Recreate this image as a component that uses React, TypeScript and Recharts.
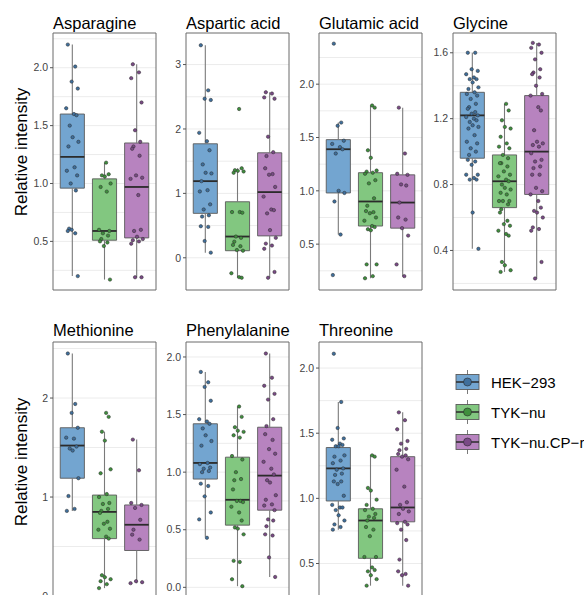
import React from 'react'
import {
  ScatterChart,
  Scatter,
  XAxis,
  YAxis,
  CartesianGrid,
  ReferenceArea,
  ReferenceLine,
} from 'recharts'

const GROUPS = ['HEK−293', 'TYK−nu', 'TYK−nu.CP−r']
const BOX_FILL = ['#73a5d0', '#82c780', '#b783bf']
const POINT_FILL = ['#3f6f9c', '#3f8f3d', '#7a4a86']

// relative intensity of each sample
const ASN_HEK = [2.2, 2.01, 1.88, 1.82, 1.65, 1.6, 1.59, 1.5, 1.4, 1.36, 1.32, 1.14, 1.11, 1.07, 1.0, 0.94, 0.61, 0.59, 0.57, 0.6, 0.2]
const ASN_TYK = [1.18, 1.08, 1.07, 1.06, 1.0, 0.97, 0.93, 0.6, 0.59, 0.57, 0.55, 0.52, 0.5, 0.49, 0.46, 0.17]
const ASN_CPR = [2.03, 1.96, 1.91, 1.7, 1.46, 1.36, 1.32, 1.3, 1.24, 1.07, 1.05, 1.04, 0.9, 0.6, 0.59, 0.54, 0.52, 0.51, 0.5, 0.48, 0.19, 0.19]

const ASP_HEK = [3.3, 2.6, 2.47, 2.45, 1.94, 1.81, 1.67, 1.45, 1.32, 1.31, 1.19, 1.05, 1.03, 0.83, 0.75, 0.66, 0.64, 0.49, 0.48, 0.26, 0.08]
const ASP_TYK = [2.31, 1.39, 1.36, 1.35, 1.34, 1.32, 0.71, 0.71, 0.7, 0.33, 0.31, 0.25, 0.2, 0.18, 0.12, 0.11, -0.24, -0.3, -0.31]
const ASP_CPR = [2.57, 2.55, 2.49, 2.47, 1.88, 1.64, 1.58, 1.39, 1.3, 1.29, 1.1, 0.95, 0.75, 0.74, 0.69, 0.43, 0.31, 0.22, 0.19, 0.14, -0.22, -0.31]

const GLU_HEK = [2.38, 1.64, 1.61, 1.47, 1.44, 1.41, 1.39, 1.35, 1.0, 0.98, 0.9, 0.59, 0.21]
const GLU_TYK = [1.8, 1.78, 1.38, 1.31, 1.19, 1.18, 1.17, 1.16, 1.1, 1.07, 0.93, 0.86, 0.81, 0.8, 0.79, 0.75, 0.72, 0.67, 0.66, 0.64, 0.63, 0.31, 0.31, 0.2, 0.18]
const GLU_CPR = [1.78, 1.35, 1.16, 1.15, 1.06, 1.05, 0.89, 0.75, 0.73, 0.65, 0.58, 0.31, 0.2]

const GLY_HEK = [1.6, 1.6, 1.5, 1.49, 1.47, 1.45, 1.44, 1.44, 1.42, 1.39, 1.38, 1.36, 1.35, 1.34, 1.32, 1.29, 1.27, 1.26, 1.24, 1.23, 1.22, 1.21, 1.2, 1.19, 1.18, 1.16, 1.15, 1.14, 1.1, 1.06, 1.05, 1.02, 1.0, 0.98, 0.95, 0.94, 0.92, 0.86, 0.86, 0.84, 0.83, 0.83, 0.63, 0.41]
const GLY_TYK = [1.29, 1.25, 1.19, 1.15, 1.14, 1.09, 1.05, 1.03, 1.02, 0.98, 0.96, 0.93, 0.93, 0.91, 0.88, 0.86, 0.85, 0.83, 0.82, 0.8, 0.78, 0.77, 0.75, 0.74, 0.7, 0.7, 0.7, 0.68, 0.65, 0.63, 0.58, 0.56, 0.55, 0.52, 0.5, 0.49, 0.33, 0.31, 0.28, 0.27]
const GLY_CPR = [1.66, 1.65, 1.63, 1.6, 1.56, 1.5, 1.48, 1.47, 1.45, 1.4, 1.35, 1.34, 1.27, 1.25, 1.13, 1.06, 1.05, 1.04, 1.03, 0.99, 0.95, 0.94, 0.91, 0.9, 0.86, 0.86, 0.78, 0.76, 0.74, 0.7, 0.66, 0.64, 0.63, 0.6, 0.54, 0.53, 0.52, 0.33, 0.23]

const MET_HEK = [2.45, 1.94, 1.85, 1.7, 1.6, 1.59, 1.51, 1.49, 1.47, 1.19, 1.01, 0.88, 0.86]
const MET_TYK = [1.85, 1.81, 1.66, 1.57, 1.28, 1.24, 1.03, 1.0, 0.94, 0.93, 0.88, 0.86, 0.84, 0.75, 0.73, 0.68, 0.67, 0.6, 0.58, 0.21, 0.19, 0.17, 0.15, 0.12, 0.08]
const MET_CPR = [1.58, 1.27, 0.94, 0.92, 0.89, 0.77, 0.67, 0.62, 0.57, 0.15, 0.14, 0.13]

const PHE_HEK = [1.87, 1.78, 1.74, 1.62, 1.46, 1.44, 1.42, 1.38, 1.32, 1.27, 1.23, 1.08, 1.07, 1.04, 1.03, 1.01, 1.0, 0.9, 0.88, 0.79, 0.65, 0.59, 0.43]
const PHE_TYK = [1.57, 1.48, 1.39, 1.36, 1.35, 1.32, 1.3, 1.14, 1.11, 1.0, 0.94, 0.93, 0.85, 0.75, 0.75, 0.74, 0.7, 0.65, 0.58, 0.52, 0.51, 0.46, 0.23, 0.22, 0.07, 0.01]
const PHE_CPR = [2.03, 1.82, 1.75, 1.68, 1.63, 1.46, 1.4, 1.33, 1.28, 1.2, 1.16, 1.09, 1.03, 0.98, 0.93, 0.91, 0.8, 0.76, 0.72, 0.71, 0.67, 0.59, 0.58, 0.53, 0.46, 0.45, 0.26, 0.09]

const THR_HEK = [2.11, 1.74, 1.54, 1.46, 1.45, 1.42, 1.41, 1.4, 1.4, 1.33, 1.32, 1.29, 1.27, 1.23, 1.22, 1.19, 1.18, 1.13, 1.13, 1.11, 1.02, 0.95, 0.93, 0.93, 0.91, 0.87, 0.83, 0.8, 0.78, 0.76]
const THR_TYK = [1.33, 1.32, 1.08, 1.06, 0.99, 0.95, 0.92, 0.91, 0.88, 0.86, 0.85, 0.83, 0.78, 0.76, 0.71, 0.55, 0.55, 0.47, 0.45, 0.44, 0.41, 0.38, 0.33]
const THR_CPR = [1.66, 1.6, 1.53, 1.44, 1.42, 1.38, 1.37, 1.34, 1.33, 1.32, 1.3, 1.22, 1.09, 0.97, 0.95, 0.92, 0.9, 0.88, 0.82, 0.81, 0.8, 0.76, 0.68, 0.53, 0.44, 0.42, 0.41, 0.33]

// box stats per group: [lower whisker, q1, median, q3, upper whisker]
const ASN_BOX = [[0.2, 0.96, 1.23, 1.6, 2.2], [0.17, 0.51, 0.59, 1.04, 1.18], [0.19, 0.53, 0.97, 1.35, 2.03]]
const ASP_BOX = [[0.08, 0.69, 1.19, 1.77, 3.3], [-0.31, 0.11, 0.33, 0.87, 1.39], [-0.31, 0.34, 1.02, 1.63, 2.57]]
const GLU_BOX = [[0.59, 0.98, 1.39, 1.48, 1.64], [0.18, 0.67, 0.9, 1.17, 1.8], [0.2, 0.65, 0.89, 1.15, 1.78]]
const GLY_BOX = [[0.41, 0.96, 1.22, 1.36, 1.6], [0.27, 0.66, 0.82, 0.98, 1.29], [0.23, 0.74, 1.0, 1.34, 1.66]]
const MET_BOX = [[0.86, 1.19, 1.52, 1.7, 2.45], [0.08, 0.58, 0.85, 1.02, 1.66], [0.13, 0.46, 0.72, 0.92, 1.58]]
const PHE_BOX = [[0.44, 0.94, 1.08, 1.42, 1.87], [0.01, 0.54, 0.76, 1.13, 1.57], [0.09, 0.67, 0.97, 1.39, 2.03]]
const THR_BOX = [[0.76, 0.98, 1.23, 1.39, 1.74], [0.33, 0.54, 0.83, 0.92, 1.33], [0.33, 0.82, 0.93, 1.32, 1.66]]

// horizontal spread of the jittered points
const JITTER = [-0.14, 0.09, -0.02, 0.17, -0.19, 0.05, 0.13, -0.08, 0.01, 0.19, -0.12, 0.07, -0.17, 0.15, -0.05, 0.11, -0.1]

const PANEL_W = 103
const AXIS_W = 40

const PANELS = [
  { name: 'Asparagine', left: 53, top: 33, h: 257, domain: [0.08, 2.3], ticks: [0.5, 1, 1.5, 2], minor: [0.25, 0.75, 1.25, 1.75, 2.25], digits: 1, points: [ASN_HEK, ASN_TYK, ASN_CPR], box: ASN_BOX },
  { name: 'Aspartic acid', left: 186, top: 33, h: 257, domain: [-0.5, 3.49], ticks: [0, 1, 2, 3], minor: [0.5, 1.5, 2.5], digits: 0, points: [ASP_HEK, ASP_TYK, ASP_CPR], box: ASP_BOX },
  { name: 'Glutamic acid', left: 319, top: 33, h: 257, domain: [0.07, 2.48], ticks: [0.5, 1, 1.5, 2], minor: [0.25, 0.75, 1.25, 1.75, 2.25], digits: 1, points: [GLU_HEK, GLU_TYK, GLU_CPR], box: GLU_BOX },
  { name: 'Glycine', left: 453, top: 33, h: 257, domain: [0.16, 1.72], ticks: [0.4, 0.8, 1.2, 1.6], minor: [0.2, 0.6, 1.0, 1.4], digits: 1, points: [GLY_HEK, GLY_TYK, GLY_CPR], box: GLY_BOX },
  { name: 'Methionine', left: 53, top: 342, h: 258, domain: [-0.04, 2.566], ticks: [0, 1, 2], minor: [0.5, 1.5, 2.5], digits: 0, points: [MET_HEK, MET_TYK, MET_CPR], box: MET_BOX },
  { name: 'Phenylalanine', left: 186, top: 342, h: 258, domain: [-0.11, 2.13], ticks: [0, 0.5, 1, 1.5, 2], minor: [0.25, 0.75, 1.25, 1.75], digits: 1, points: [PHE_HEK, PHE_TYK, PHE_CPR], box: PHE_BOX },
  { name: 'Threonine', left: 319, top: 342, h: 258, domain: [0.22, 2.2], ticks: [0.5, 1, 1.5, 2], minor: [0.25, 0.75, 1.25, 1.75], digits: 1, points: [THR_HEK, THR_TYK, THR_CPR], box: THR_BOX },
]

const FONT = 'Liberation Sans, Arial, sans-serif'

function Panel({ p }: { p: (typeof PANELS)[number] }) {
  const series = p.points.map((vals, g) =>
    vals.map((y, i) => ({ x: g + 1 + JITTER[(i + g * 5) % JITTER.length], y })),
  )
  const boxes = p.box.map(([lo, q1, med, q3, hi], g) => {
    const c = g + 1
    return [
      <ReferenceLine key={`wu${g}`} segment={[{ x: c, y: q3 }, { x: c, y: hi }]} stroke="#7a7a7a" strokeWidth={1.1} />,
      <ReferenceLine key={`wl${g}`} segment={[{ x: c, y: lo }, { x: c, y: q1 }]} stroke="#7a7a7a" strokeWidth={1.1} />,
      <ReferenceArea key={`b${g}`} x1={c - 0.375} x2={c + 0.375} y1={q1} y2={q3} fill={BOX_FILL[g]} fillOpacity={1} stroke="#5a5a5a" strokeWidth={0.9} />,
      <ReferenceLine key={`m${g}`} segment={[{ x: c - 0.375, y: med }, { x: c + 0.375, y: med }]} stroke="#2b2b2b" strokeWidth={1.8} />,
    ]
  })

  return (
    <div style={{ position: 'absolute', left: p.left - AXIS_W, top: p.top - 1 }}>
      <ScatterChart
        width={AXIS_W + PANEL_W + 1}
        height={p.h + 7}
        margin={{ top: 1, right: 1, bottom: 0, left: 0 }}
      >
        <CartesianGrid
          stroke="#ececec"
          horizontalValues={[...p.ticks, ...p.minor]}
          verticalValues={[1, 2, 3]}
        />
        <XAxis
          type="number"
          dataKey="x"
          domain={[0.4, 3.6]}
          ticks={[1, 2, 3]}
          tick={false}
          tickSize={3}
          axisLine={false}
          tickLine={{ stroke: '#555' }}
          height={6}
          allowDataOverflow
        />
        <YAxis
          type="number"
          dataKey="y"
          domain={p.domain}
          ticks={p.ticks}
          interval={0}
          tickFormatter={(v: number) => v.toFixed(p.digits)}
          width={AXIS_W}
          tickSize={3}
          tickMargin={2}
          axisLine={false}
          tickLine={{ stroke: '#555' }}
          tick={{ fontSize: 10.5, fill: '#444', fontFamily: FONT }}
          allowDataOverflow
        />
        {boxes.flat()}
        {series.map((data, g) => (
          <Scatter
            key={GROUPS[g]}
            name={GROUPS[g]}
            data={data}
            isAnimationActive={false}
            shape={(props: any) => (
              <circle cx={props.cx} cy={props.cy} r={1.7} fill={POINT_FILL[g]} stroke="#2a2a2a" strokeWidth={0.5} />
            )}
          />
        ))}
        <ReferenceArea x1={0.4} x2={3.6} y1={p.domain[0]} y2={p.domain[1]} fill="none" stroke="#6a6a6a" strokeWidth={1} />
      </ScatterChart>
    </div>
  )
}

const LEGEND_Y = [382, 412, 442]

export default function App() {
  return (
    <div style={{ position: 'absolute', left: 0, top: 0, width: 584, height: 595, overflow: 'hidden', background: '#fff' }}>
      {PANELS.map((p) => (
        <Panel key={p.name} p={p} />
      ))}
      <svg width={584} height={595} style={{ position: 'absolute', left: 0, top: 0, pointerEvents: 'none' }}>
        {PANELS.map((p) => (
          <text key={p.name} x={p.left} y={p.top < 100 ? 29 : 336} fontSize={16.5} fontFamily={FONT} fill="#000">
            {p.name}
          </text>
        ))}
        {[152, 462].map((cy) => (
          <text key={cy} x={27} y={cy} transform={`rotate(-90, 27, ${cy})`} textAnchor="middle" fontSize={17} fontFamily={FONT} fill="#000">
            Relative intensity
          </text>
        ))}
        {GROUPS.map((g, i) => {
          const cy = LEGEND_Y[i]
          return (
            <g key={g}>
              <line x1={467.5} x2={467.5} y1={cy - 12} y2={cy + 12} stroke="#7a7a7a" strokeWidth={1} />
              <rect x={456} y={cy - 7.5} width={23} height={15} fill={BOX_FILL[i]} stroke="#5a5a5a" strokeWidth={0.9} />
              <line x1={456} x2={479} y1={cy} y2={cy} stroke="#2b2b2b" strokeWidth={1.5} />
              <circle cx={467.5} cy={cy} r={4} fill={POINT_FILL[i]} stroke="#2a2a2a" strokeWidth={0.6} />
              <text x={491} y={cy + 5.5} fontSize={15} fontFamily={FONT} fill="#000">
                {g}
              </text>
            </g>
          )
        })}
      </svg>
    </div>
  )
}
